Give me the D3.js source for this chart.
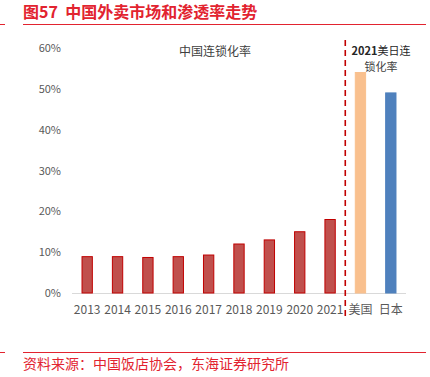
<!DOCTYPE html>
<html lang="zh">
<head>
  <meta charset="utf-8">
  <title>中国外卖市场和渗透率走势</title>
  <script src="https://cdn.jsdelivr.net/npm/d3@7"></script>
  <style>
    body { margin: 0; background: #fff; }
    svg { display: block; font-family: "Noto Sans CJK SC", "Noto Sans", sans-serif; }
  </style>
</head>
<body>
  <div id="chart"></div>
  <script>
    var width = 430, height = 377;

    // 数据
    var categories = ["2013", "2014", "2015", "2016", "2017", "2018", "2019", "2020", "2021", "美国", "日本"];
    var values = [8.9, 8.9, 8.7, 8.9, 9.3, 12.0, 13.0, 15.0, 18.0, 54.0, 49.0];
    var yTicks = [0, 10, 20, 30, 40, 50, 60];

    var red = "#e2232f";

    var svg = d3.select("#chart").append("svg")
      .attr("width", width)
      .attr("height", height);

    // 标题
    svg.append("text")
      .attr("x", 23).attr("y", 18)
      .style("font-size", "16px").style("font-weight", "bold")
      .style("fill", red)
      .attr("xml:space", "preserve")
      .text("图57  中国外卖市场和渗透率走势");
    svg.append("line").attr("x1", 0).attr("x2", 5).attr("y1", 24.5).attr("y2", 24.5)
      .style("stroke", red).style("stroke-width", 1);
    svg.append("line").attr("x1", 23).attr("x2", 426).attr("y1", 24.5).attr("y2", 24.5)
      .style("stroke", red).style("stroke-width", 1);

    var x = d3.scaleBand().domain(categories).range([72, 406]).paddingInner(0.66).paddingOuter(0.33);
    var y = d3.scaleLinear().domain([0, 60]).range([293, 48]);

    // y 轴刻度
    svg.append("g").selectAll("text")
      .data(yTicks).enter().append("text")
      .attr("x", 61).attr("y", d => y(d) + 4)
      .attr("text-anchor", "end")
      .style("font-size", "11px").style("fill", "#595959")
      .text(d => d + "%");

    // 基线
    svg.append("line").attr("x1", 72).attr("x2", 406).attr("y1", y(0) + 0.5).attr("y2", y(0) + 0.5)
      .style("stroke", "#d9d9d9").style("stroke-width", 1);

    function fillOf(c) {
      if (c === "美国") return "#f9c08e";
      if (c === "日本") return "#4f81bd";
      return "#c0504d";
    }
    function strokeOf(c) {
      if (c === "美国") return "#f9c08e";
      if (c === "日本") return "#4f81bd";
      return "#c00000";
    }

    svg.append("g").selectAll("rect")
      .data(values).enter().append("rect")
      .attr("x", (d, i) => x(categories[i]))
      .attr("width", x.bandwidth())
      .attr("y", d => y(d))
      .attr("height", d => y(0) - y(d))
      .style("fill", (d, i) => fillOf(categories[i]))
      .style("stroke", (d, i) => strokeOf(categories[i]))
      .style("stroke-width", 1);

    // x 轴标签
    svg.append("g").selectAll("text")
      .data(categories).enter().append("text")
      .attr("x", d => x(d) + x.bandwidth() / 2)
      .attr("y", 314)
      .attr("text-anchor", "middle")
      .style("font-size", "12px").style("fill", "#595959")
      .text(d => d);

    // 分隔虚线
    var sepX = (x("2021") + x("美国") + x.bandwidth()) / 2;
    svg.append("line").attr("x1", sepX).attr("x2", sepX).attr("y1", 40).attr("y2", 316)
      .style("stroke", "#c00000").style("stroke-width", 1.6)
      .style("stroke-dasharray", "6,4");

    // 注释
    svg.append("text").attr("x", 215).attr("y", 56).attr("text-anchor", "middle")
      .style("font-size", "12px").style("fill", "#404040").text("中国连锁化率");
    var note = svg.append("text").attr("x", 381).attr("y", 55).attr("text-anchor", "middle")
      .style("font-size", "11px").style("fill", "#262626");
    note.append("tspan").style("font-weight", "bold").text("2021");
    note.append("tspan").text("美日连");
    svg.append("text").attr("x", 381).attr("y", 71).attr("text-anchor", "middle")
      .style("font-size", "11px").style("fill", "#404040")
      .text("锁化率");

    // 底部来源
    svg.append("line").attr("x1", 0).attr("x2", 5).attr("y1", 352.5).attr("y2", 352.5)
      .style("stroke", red).style("stroke-width", 1);
    svg.append("line").attr("x1", 23).attr("x2", 426).attr("y1", 352.5).attr("y2", 352.5)
      .style("stroke", red).style("stroke-width", 1);
    svg.append("text").attr("x", 23).attr("y", 369)
      .style("font-size", "14px").style("fill", red)
      .text("资料来源：中国饭店协会，东海证券研究所");
  </script>
</body>
</html>
